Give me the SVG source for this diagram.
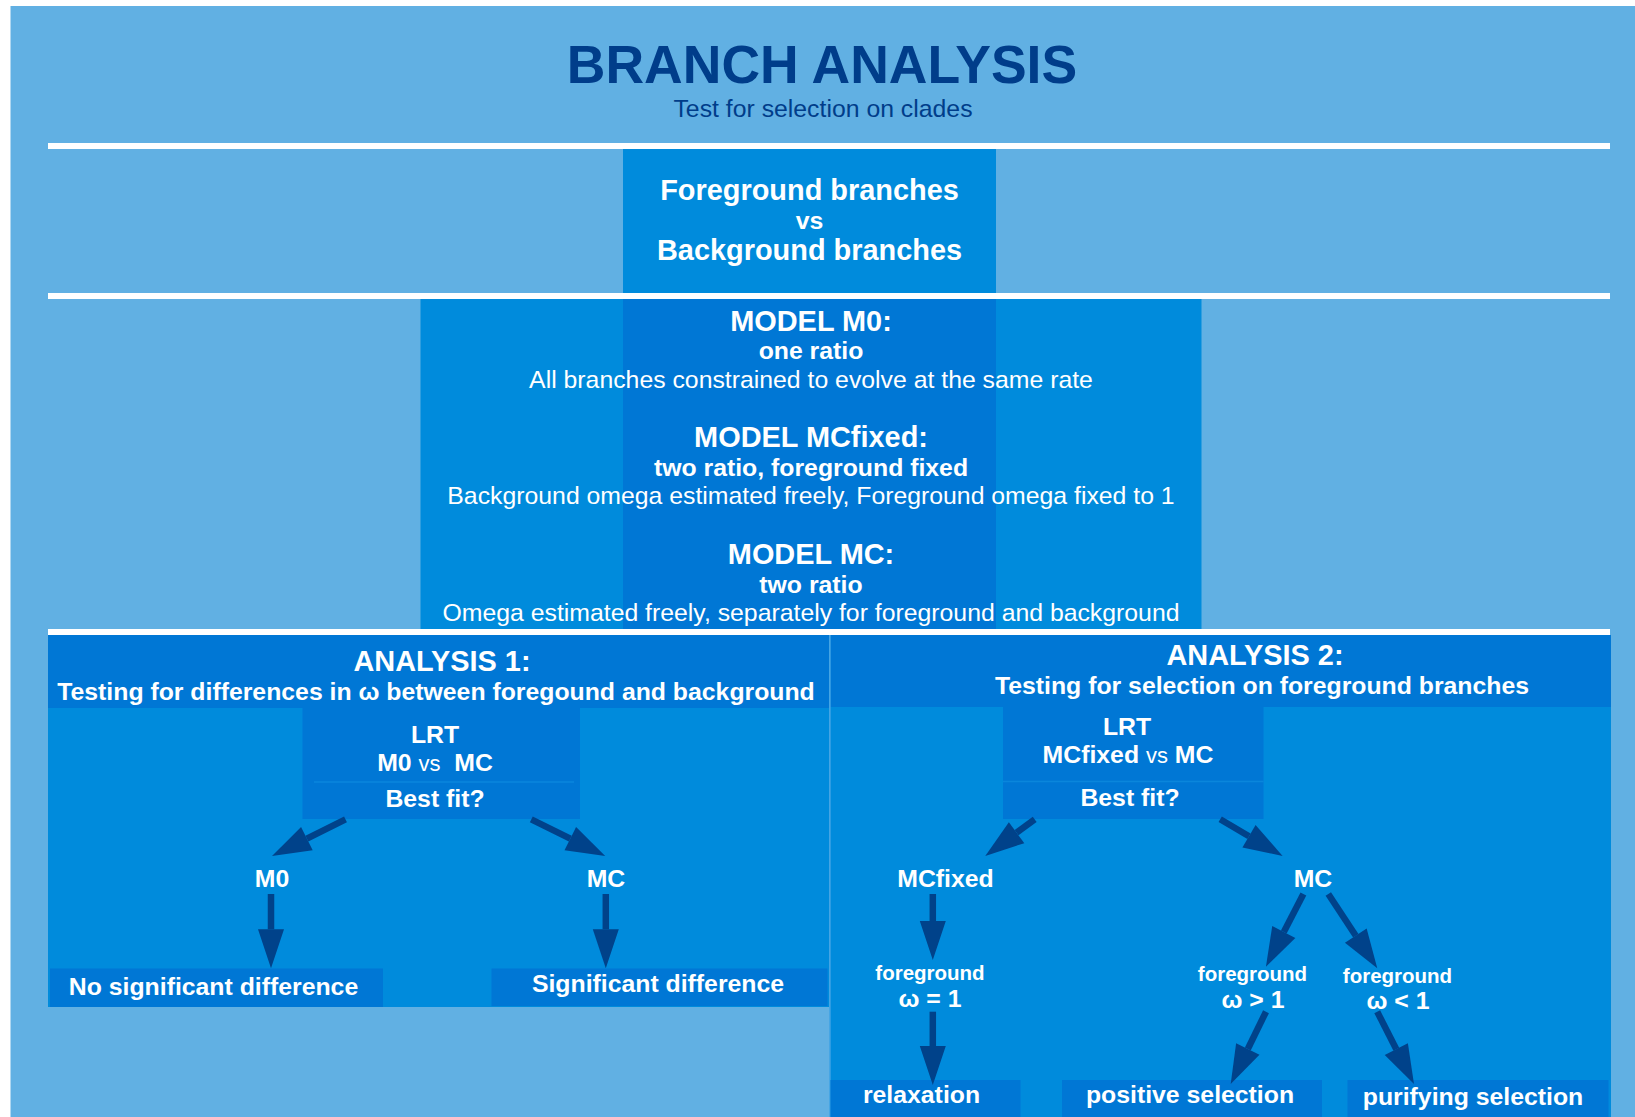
<svg xmlns="http://www.w3.org/2000/svg" width="1635" height="1117" viewBox="0 0 1635 1117">
  <style>
    text { font-family: "Liberation Sans", Arial, sans-serif; fill: #ffffff; text-anchor: middle; }
    .b { font-weight: bold; }
    .h { font-size: 28.9px; font-weight: bold; }
    .m { font-size: 24.8px; }
    .s { font-size: 20.5px; font-weight: bold; }
    .title { font-size: 53.5px; font-weight: bold; fill: #003D8A; }
    .sub { font-size: 24.8px; fill: #003D8A; }
    .bg { fill: #61B0E3; }
    .mid { fill: #008BDC; }
    .dark { fill: #0077D5; }
    .rule { fill: #ffffff; }
    .arrow { stroke: #00428A; stroke-width: 6.5; fill: none; marker-end: url(#head); }
    .pre { white-space: pre; }
  </style>
  <defs>
    <marker id="head" markerUnits="strokeWidth" markerWidth="6" markerHeight="4" refX="0" refY="2" orient="auto" overflow="visible">
      <path d="M0,0 L6,2 L0,4 z" fill="#00428A"/>
    </marker>
  </defs>

  <!-- page -->
  <rect x="0" y="0" width="1635" height="1117" fill="#ffffff"/>
  <rect class="bg" x="10.5" y="6" width="1624.5" height="1111"/>

  <!-- heading -->
  <g id="title">
    <text class="title" x="822" y="83">BRANCH ANALYSIS</text>
    <text class="sub" x="823" y="117">Test for selection on clades</text>
  </g>

  <!-- horizontal rules -->
  <rect class="rule" x="48" y="143" width="1562" height="6"/>
  <rect class="rule" x="48" y="293" width="1562" height="6"/>

  <g id="comparison">
    <rect class="mid" x="623" y="149" width="373" height="144"/>
    <text class="h" x="809.5" y="200">Foreground branches</text>
    <text class="m b" x="809.5" y="229">vs</text>
    <text class="h" x="809.5" y="260">Background branches</text>
  </g>

  <g id="models">
    <rect class="mid" x="420.5" y="299" width="781" height="330"/>
    <rect class="dark" x="623" y="299" width="373" height="330"/>
    <text class="h" x="811" y="331">MODEL M0:</text>
    <text class="m b" x="811" y="359">one ratio</text>
    <text class="m" x="811" y="388">All branches constrained to evolve at the same rate</text>
    <text class="h" x="811" y="447">MODEL MCfixed:</text>
    <text class="m b" x="811" y="475.5">two ratio, foreground fixed</text>
    <text class="m" x="811" y="504">Background omega estimated freely, Foreground omega fixed to 1</text>
    <text class="h" x="811" y="564">MODEL MC:</text>
    <text class="m b" x="811" y="592.5">two ratio</text>
    <text class="m" x="811" y="621">Omega estimated freely, separately for foreground and background</text>
  </g>

  <rect class="rule" x="48" y="629" width="1562" height="6"/>

  <!-- analysis 1 -->
  <g id="analysis1">
    <rect class="mid" x="48" y="708" width="781" height="299"/>
    <rect class="dark" x="48" y="635" width="781" height="73"/>
    <text class="h" x="442" y="670.5">ANALYSIS 1:</text>
    <text class="m b" x="436" y="700">Testing for differences in ω between foregound and background</text>
  </g>
  <g id="lrt1">
    <rect class="dark" x="302.5" y="708" width="277.5" height="111"/>
    <line x1="314" y1="782" x2="574" y2="782" stroke="#0A86DC" stroke-width="1.5"/>
    <text class="m b" x="435" y="742.5">LRT</text>
    <text class="m b pre" x="435" y="770.5">M0 <tspan font-weight="normal" font-size="22">vs</tspan>  MC</text>
    <text class="m b" x="435" y="806.5">Best fit?</text>
  </g>
  <g id="m0"><text class="m b" x="272" y="886.5">M0</text></g>
  <g id="mc1"><text class="m b" x="606" y="886.5">MC</text></g>
  <g id="nosig">
    <rect class="dark" x="50" y="968.5" width="333" height="38.5"/>
    <text class="m b" x="213.5" y="995">No significant difference</text>
  </g>
  <g id="sig">
    <rect class="dark" x="491.5" y="968.5" width="336" height="37.5"/>
    <text class="m b" x="658" y="991.5">Significant difference</text>
  </g>

  <!-- analysis 2 -->
  <g id="analysis2">
    <rect class="mid" x="830" y="707" width="781" height="410"/>
    <rect class="dark" x="830" y="635" width="781" height="72"/>
    <text class="h" x="1255" y="665">ANALYSIS 2:</text>
    <text class="m b" x="1262" y="694">Testing for selection on foreground branches</text>
  </g>
  <line x1="830" y1="635" x2="830" y2="1117" stroke="#3DA2E4" stroke-width="1.5"/>
  <g id="lrt2">
    <rect class="dark" x="1003" y="707" width="260.5" height="112"/>
    <line x1="1003" y1="781.5" x2="1263.5" y2="781.5" stroke="#0A86DC" stroke-width="1.5"/>
    <text class="m b" x="1127" y="735">LRT</text>
    <text class="m b pre" x="1128" y="763">MCfixed <tspan font-weight="normal" font-size="22">vs</tspan> MC</text>
    <text class="m b" x="1130" y="805.5">Best fit?</text>
  </g>
  <g id="mcfixed"><text class="m b" x="945.5" y="886.5">MCfixed</text></g>
  <g id="mc2"><text class="m b" x="1313" y="886.5">MC</text></g>
  <g id="fg-eq">
    <text class="s" x="930" y="980">foreground</text>
    <text class="m b" x="930" y="1006.5">ω = 1</text>
  </g>
  <g id="fg-gt">
    <text class="s" x="1252.5" y="981">foreground</text>
    <text class="m b" x="1253" y="1008">ω &gt; 1</text>
  </g>
  <g id="fg-lt">
    <text class="s" x="1397.5" y="982.5">foreground</text>
    <text class="m b" x="1398" y="1009">ω &lt; 1</text>
  </g>
  <g id="relaxation">
    <rect class="dark" x="830.5" y="1080" width="190" height="37"/>
    <text class="m b" x="921.5" y="1103">relaxation</text>
  </g>
  <g id="positive">
    <rect class="dark" x="1062" y="1080" width="260" height="37"/>
    <text class="m b" x="1190" y="1103">positive selection</text>
  </g>
  <g id="purifying">
    <rect class="dark" x="1347.5" y="1080" width="261" height="37"/>
    <text class="m b" x="1473" y="1105">purifying selection</text>
  </g>

  <!-- connectors -->
  <g id="connectors">
    <line class="arrow" x1="345.5" y1="819.3" x2="306.9" y2="838.6"/>
    <line class="arrow" x1="531.3" y1="819.3" x2="570.3" y2="838.7"/>
    <line class="arrow" x1="271" y1="894" x2="271" y2="929.3"/>
    <line class="arrow" x1="605.8" y1="894" x2="605.8" y2="929.3"/>
    <line class="arrow" x1="1034.7" y1="819.3" x2="1016.6" y2="832.7"/>
    <line class="arrow" x1="1220.2" y1="819.3" x2="1249" y2="836.2"/>
    <line class="arrow" x1="932.8" y1="894" x2="932.8" y2="921"/>
    <line class="arrow" x1="932.8" y1="1011.7" x2="932.8" y2="1046"/>
    <line class="arrow" x1="1303.4" y1="894" x2="1283.8" y2="932"/>
    <line class="arrow" x1="1328.3" y1="894" x2="1355.8" y2="935.7"/>
    <line class="arrow" x1="1266" y1="1011.7" x2="1247.8" y2="1049"/>
    <line class="arrow" x1="1377.2" y1="1011.7" x2="1396.3" y2="1049.2"/>
  </g>
</svg>
